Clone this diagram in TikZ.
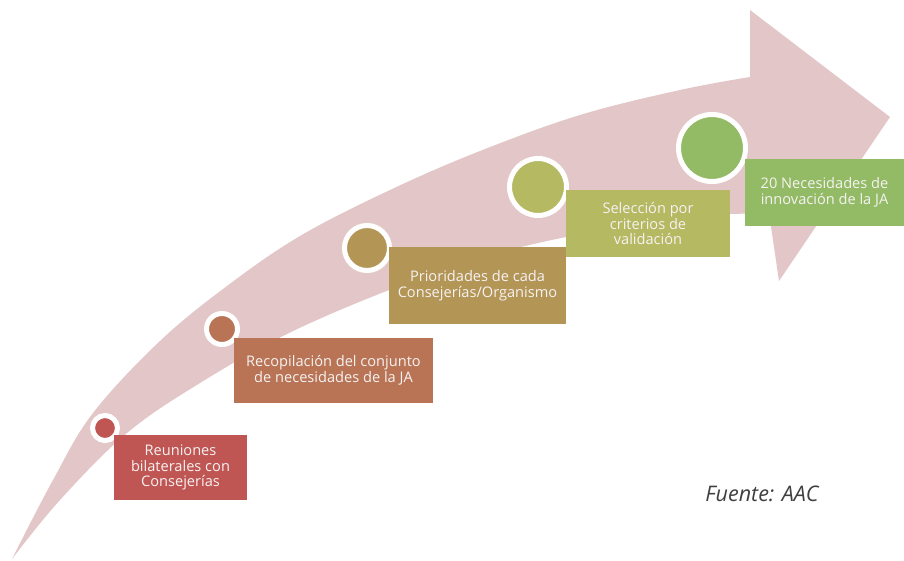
\documentclass[tikz,border=0pt]{standalone}
\usepackage{fontspec}
\setmainfont{Open Sans}
\definecolor{arrowpink}{RGB}{227,199,200}
\definecolor{cred}{RGB}{192,86,84}
\definecolor{cbrown}{RGB}{184,116,85}
\definecolor{cgold}{RGB}{179,149,86}
\definecolor{colive}{RGB}{181,185,98}
\definecolor{cgreen}{RGB}{147,187,101}
\definecolor{ctext}{RGB}{246,242,242}
\definecolor{csrc}{RGB}{64,64,64}
\begin{document}
\begin{tikzpicture}[x=1pt,y=-1pt,
  stepbox/.style={rectangle, inner sep=0pt, outer sep=0pt, align=center,
    text=ctext, font=\fontsize{14.6}{15.6}\selectfont},
  dot/.style={circle, inner sep=0pt, outer sep=0pt, draw=white, line width=5pt}]
\useasboundingbox (0,0) rectangle (904,560);
\fill[white] (0,0) rectangle (904,560);
% big arrow
\fill[arrowpink] plot[smooth, tension=0.6] coordinates {(12,559) (53,480) (93,413) (160,341) (227,286) (300,236) (390,190) (480,151) (580,115) (680,90) (750,77)}
  -- (750,10) -- (890,117) -- (779,281) -- (769,213)
  -- plot[smooth, tension=0.6] coordinates {(730,214) (650,223) (566,237) (480,258) (389,290) (287,334) (200,383) (127,433) (60,500) (12,559)} -- cycle;
% circles
\node[dot, fill=cred,   minimum size=25pt] (c1) at (105,428) {};
\node[dot, fill=cbrown, minimum size=31pt] (c2) at (222,329) {};
\node[dot, fill=cgold,  minimum size=45pt] (c3) at (367,248) {};
\node[dot, fill=colive, minimum size=57pt] (c4) at (538,187) {};
\node[dot, fill=cgreen, minimum size=67pt] (c5) at (712,148) {};
% boxes
\node[stepbox, fill=cred,   minimum width=133pt, minimum height=65pt] (b1) at (180.5,467.5) {Reuniones\\bilaterales con\\Consejerías};
\node[stepbox, fill=cbrown, minimum width=199pt, minimum height=65pt] (b2) at (333.5,370.5) {Recopilación del conjunto\\de necesidades de la JA};
\node[stepbox, fill=cgold,  minimum width=177pt, minimum height=77pt] (b3) at (477.5,285.5) {Prioridades de cada\\Consejerías/Organismo};
\node[stepbox, fill=colive, minimum width=164pt, minimum height=67pt] (b4) at (648,223.5) {Selección por\\criterios de\\validación};
\node[stepbox, fill=cgreen, minimum width=159pt, minimum height=67pt] (b5) at (824.5,192.5) {20 Necesidades de\\innovación de la JA};
% source
\node[text=csrc, font=\fontsize{21.5}{24}\itshape\selectfont] (src) at (762,494) {Fuente: AAC};
\end{tikzpicture}
\end{document}
